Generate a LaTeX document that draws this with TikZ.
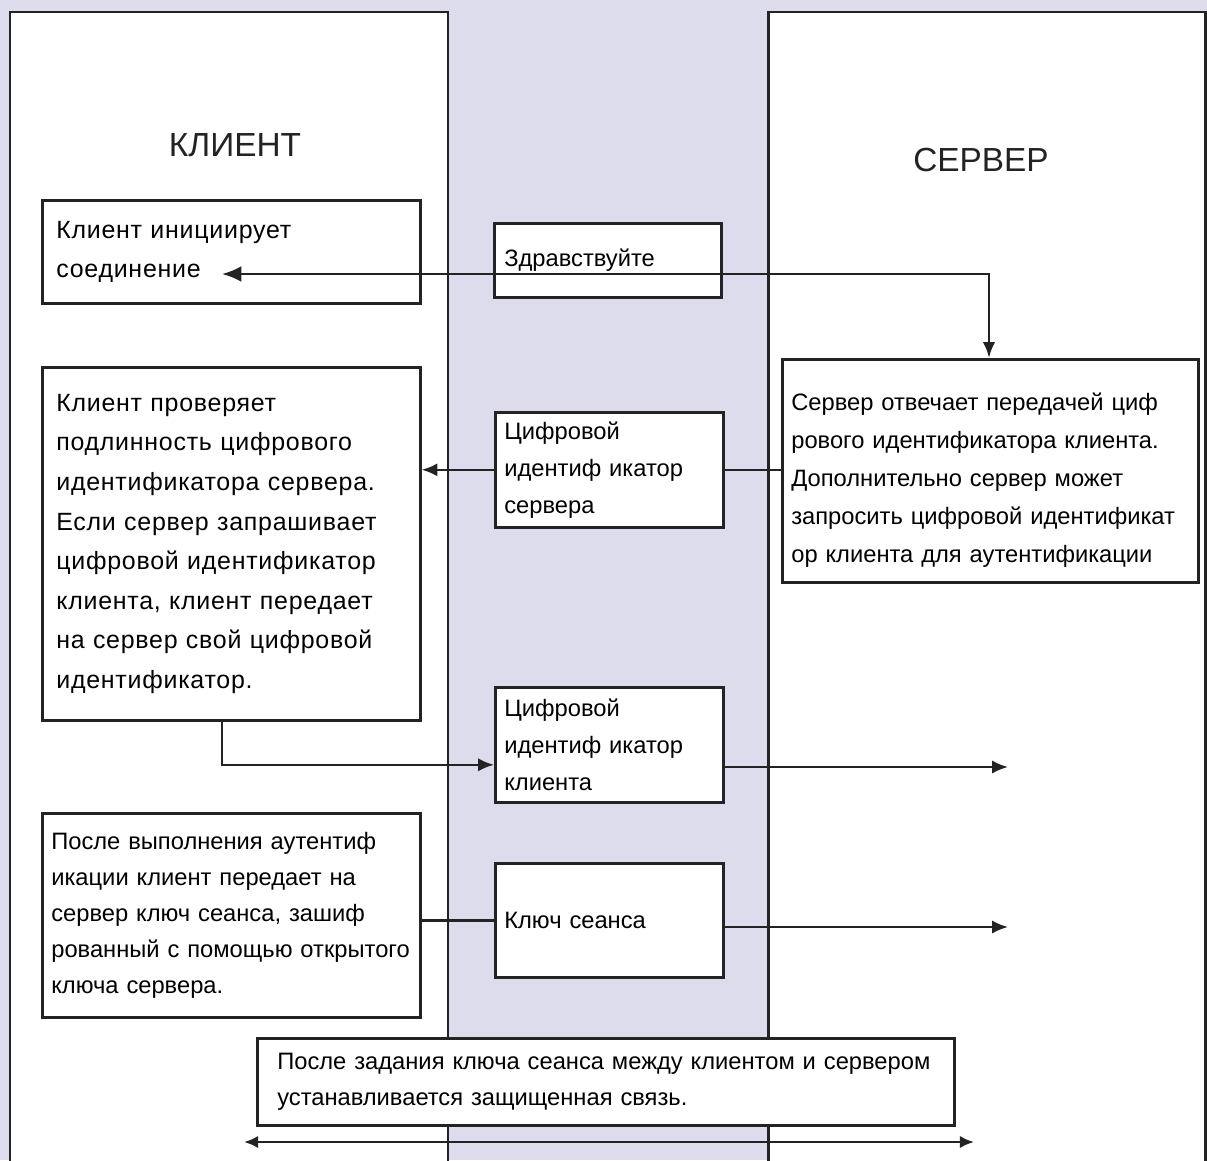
\documentclass[tikz,border=0pt]{standalone}
\usepackage{fontspec}
\setmainfont{Liberation Sans}
\newfontfamily\spacedfont[LetterSpace=3]{Liberation Sans}
\usetikzlibrary{arrows.meta, positioning, calc}
\definecolor{lane}{HTML}{DCDCEC}
\definecolor{ink}{HTML}{232323}

\begin{document}
\begin{tikzpicture}[x=0.02cm, y=-0.02cm,
	box/.style={draw=ink, line width=1.5pt, fill=white, anchor=north west, align=left, inner ysep=0pt},
	wide/.style={font=\spacedfont\fontsize{14.2pt}{22.5pt}\selectfont},
	slim/.style={font=\fontsize{13.5pt}{21pt}\selectfont},
	head/.style={font=\fontsize{19pt}{19pt}\selectfont, text=ink},
	link/.style={draw=ink, line width=1.4pt},
	tip/.style={-{Latex[length=9pt,width=7.5pt]}},
	]
		\fill[lane] (0,0) rectangle (1207,1160);
		\clip (0,0) rectangle (1207,1160);
		\filldraw[fill=white, draw=ink, line width=1.7pt] (10,12) rectangle (448,1190);
		\filldraw[fill=white, draw=ink, line width=1.7pt] (768,12) rectangle (1205,1190);
		
		\node[head] (clienthead) at (235,145) {КЛИЕНТ};
		\node[head] (serverhead) at (981,160) {СЕРВЕР};
		
		\node[box, wide, minimum width=7.56cm, minimum height=2.06cm, text width=7cm, inner xsep=0.28cm] (init) at (41,199) {Клиент инициирует\\соединение};
		\node[box, slim, minimum width=4.54cm, minimum height=1.48cm, text width=4.14cm, inner xsep=0.2cm] (hello) at (493,222) {Здравствуйте};
		\node[box, slim, minimum width=8.32cm, minimum height=4.46cm, text width=7.96cm, inner xsep=0.18cm, font=\fontsize{13.5pt}{21.6pt}\selectfont] (reply) at (781,358) {\rule{0pt}{21pt}Сервер отвечает передачей циф\\рового идентификатора клиента.\\Дополнительно сервер может\\запросить цифровой идентификат\\ор клиента для аутентификации};
		\node[box, wide, minimum width=7.56cm, minimum height=7.06cm, text width=7cm, inner xsep=0.28cm] (verify) at (41,366) {Клиент проверяет\\подлинность цифрового\\идентификатора сервера.\\Если сервер запрашивает\\цифровой идентификатор\\клиента, клиент передает\\на сервер свой цифровой\\идентификатор.};
		\node[box, slim, minimum width=4.56cm, minimum height=2.3cm, text width=4.2cm, inner xsep=0.18cm] (srvid) at (494,411) {Цифровой\\идентиф икатор\\сервера};
		\node[box, slim, minimum width=4.56cm, minimum height=2.3cm, text width=4.2cm, inner xsep=0.18cm] (cliid) at (494,686) {Цифровой\\идентиф икатор\\клиента};
		\node[box, slim, minimum width=7.56cm, minimum height=4.08cm, text width=7.2cm, inner xsep=0.18cm, font=\fontsize{13.5pt}{20.5pt}\selectfont] (auth) at (41,812) {После выполнения аутентиф\\икации клиент передает на\\сервер ключ сеанса, зашиф\\рованный с помощью открытого\\ключа сервера.};
		\node[box, slim, minimum width=4.56cm, minimum height=2.28cm, text width=4.2cm, inner xsep=0.18cm] (sesskey) at (494,862) {Ключ сеанса};
		\node[box, slim, minimum width=13.94cm, minimum height=1.74cm, text width=13.14cm, inner xsep=0.4cm, font=\fontsize{13.5pt}{20pt}\selectfont] (secure) at (256,1037) {После задания ключа сеанса между клиентом и сервером\\устанавливается защищенная связь.};
		
		\coordinate (initin) at (222,274);
		\coordinate (bend) at (989,274);
		\coordinate (cliout) at (1008,767);
		\coordinate (keyout) at (1008,927);
		\coordinate (linkl) at (244,1142);
		\coordinate (linkr) at (974,1142);
		
		\draw[link, {Latex[length=11pt,width=9pt]}-{Latex[length=9pt,width=7pt]}] (initin) -- (bend) -- (bend |- reply.north);
		\draw[link] (srvid.east) -- (srvid.east -| reply.west);
		\draw[link, tip] (srvid.west) -- (srvid.west -| verify.east);
		\draw[link, tip] (verify.south -| initin) |- ([yshift=-0.4cm]cliid.west);
		\draw[link, tip] (cliid.east |- cliout) -- (cliout);
		\draw[link] (sesskey.west) -- (sesskey.west -| auth.east);
		\draw[link, tip] (sesskey.east |- keyout) -- (keyout);
		\draw[link, {Latex[length=8pt,width=7pt]}-{Latex[length=8pt,width=7pt]}] (linkl) -- (linkr);
\end{tikzpicture}
\end{document}
